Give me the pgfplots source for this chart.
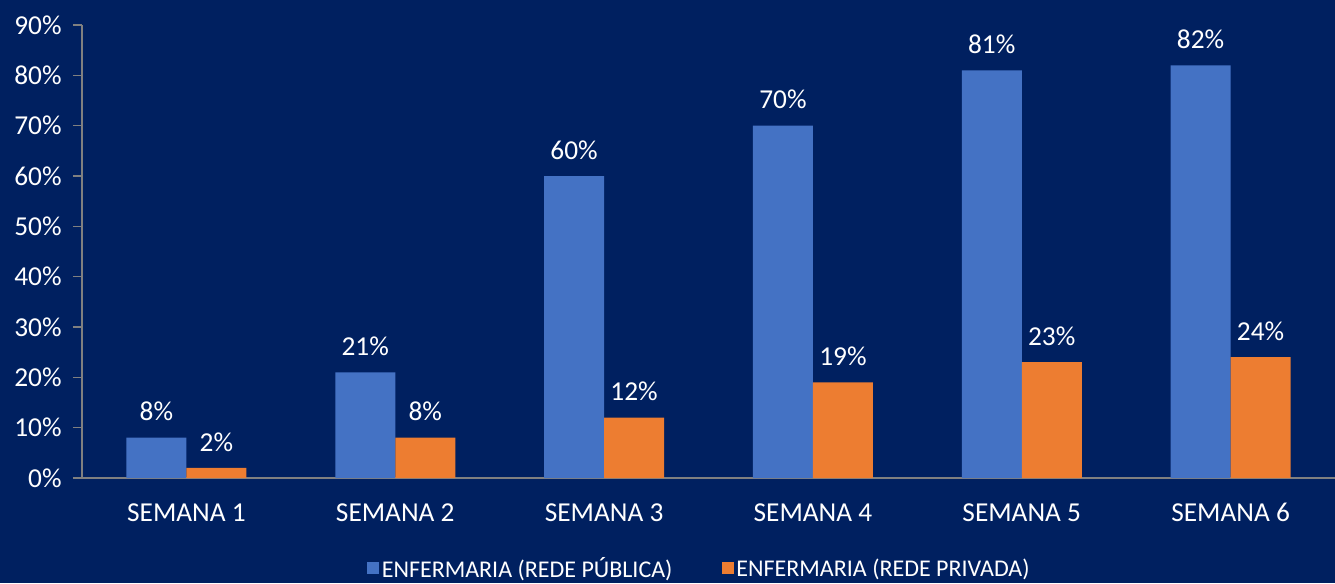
\documentclass[border=0pt]{standalone}
\usepackage{fontspec}
\setmainfont{Carlito}
\usepackage{pgfplots}
\pgfplotsset{compat=1.18}

\definecolor{bgnavy}{HTML}{002060}
\definecolor{barblue}{HTML}{4472C4}
\definecolor{barorange}{HTML}{ED7D31}
\definecolor{axgray}{HTML}{808080}

\begin{document}
\begin{tikzpicture}
% background, also fixes the page size (1 px = 0.75pt)
\path[use as bounding box, fill=bgnavy] (-61.5pt,-78.75pt) rectangle (939.75pt,358.5pt);
\begin{axis}[
  at={(0,0)}, anchor=south west,
  scale only axis, width=939.75pt, height=339.75pt,
  ybar=0pt, bar width=45pt,
  xmin=-0.5, xmax=5.5, ymin=0, ymax=90,
  xtick={0,...,5},
  xticklabels={SEMANA 1, SEMANA 2, SEMANA 3, SEMANA 4, SEMANA 5, SEMANA 6},
  ytick={0,10,...,90},
  yticklabel={\pgfmathprintnumber{\tick}\%},
  /pgf/number format/assume math mode=true,
  axis lines*=left,
  axis line style={axgray, line width=1pt},
  x tick style={draw=none},
  y tick style={axgray, line width=1pt},
  tick align=outside, major tick length=6.75pt,
  ticklabel style={font=\fontsize{20.5}{24}\selectfont, text=white},
  yticklabel style={xshift=-5pt},
  xticklabel style={yshift=-8pt, text height=14pt, text depth=0pt},
  nodes near coords={\pgfmathprintnumber{\pgfplotspointmeta}\%},
  every node near coord/.append style={font=\fontsize{20.5}{24}\selectfont, text=white, yshift=9pt},
  legend columns=2,
  legend style={draw=none, fill=none, text=white,
    font=\fontsize{18}{22}\selectfont,
    at={(0.493,-0.163)}, anchor=north,
    /tikz/every even column/.append style={column sep=35pt}},
  legend image code/.code={\fill[#1] (-4.5pt,-4pt) rectangle (4.5pt,5pt);},
]
\addplot[fill=barblue, draw=none] coordinates {
  (0,8) (1,21) (2,60) (3,70) (4,81) (5,82)
};
\addplot[fill=barorange, draw=none] coordinates {
  (0,2) (1,8) (2,12) (3,19) (4,23) (5,24)
};
\legend{ENFERMARIA (REDE PÚBLICA), ENFERMARIA (REDE PRIVADA)}
\end{axis}
\end{tikzpicture}
\end{document}
